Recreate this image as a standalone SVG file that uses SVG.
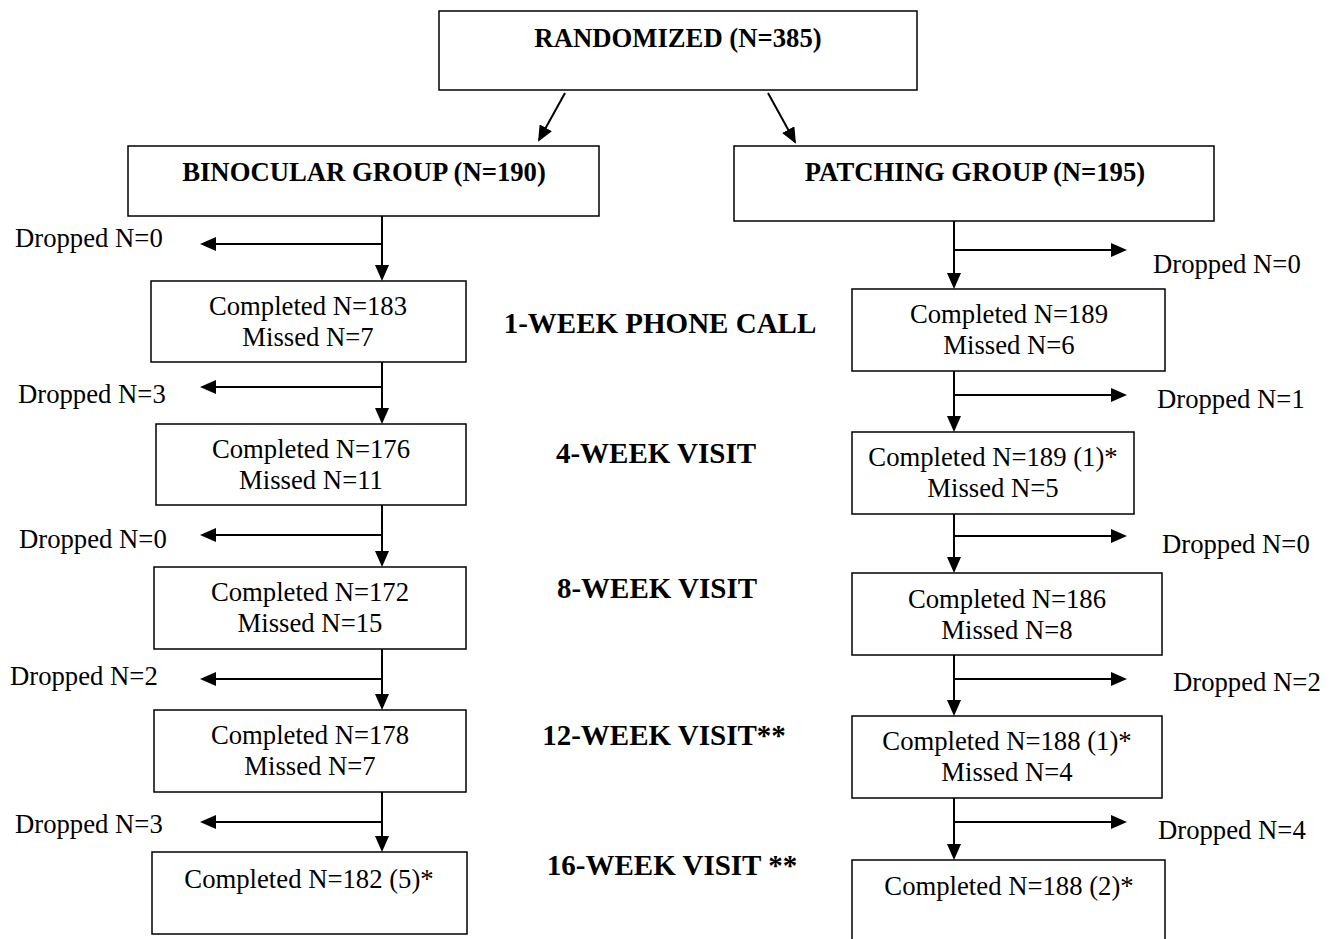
<svg xmlns="http://www.w3.org/2000/svg" width="1334" height="939" viewBox="0 0 1334 939">
<style>
.box{fill:#fff;stroke:#000;stroke-width:1.5}
.t{font-family:"Liberation Serif",serif;font-size:26.7px;fill:#000;text-anchor:middle}
.d{font-family:"Liberation Serif",serif;font-size:26.7px;fill:#000}
.b{font-family:"Liberation Serif",serif;font-size:26.7px;font-weight:bold;fill:#000;text-anchor:middle}
.m{font-family:"Liberation Serif",serif;font-size:29px;font-weight:bold;fill:#000;text-anchor:middle}
.c{stroke:#000;stroke-width:2;fill:none;marker-end:url(#ah)}
</style>
<defs>
<marker id="ah" markerWidth="8" markerHeight="7" refX="7" refY="3.5" orient="auto" markerUnits="strokeWidth">
<path d="M0,0 L8,3.5 L0,7 Z" fill="#000"/>
</marker>
</defs>
<g id="connectors">
<line class="c" x1="565" y1="93" x2="539" y2="140"/>
<line class="c" x1="768" y1="93" x2="795" y2="142"/>
<line class="c" x1="382" y1="216" x2="382" y2="279"/>
<line class="c" x1="382" y1="244" x2="202" y2="244"/>
<line class="c" x1="382" y1="362" x2="382" y2="422"/>
<line class="c" x1="382" y1="387" x2="202" y2="387"/>
<line class="c" x1="382" y1="505" x2="382" y2="565"/>
<line class="c" x1="382" y1="535" x2="202" y2="535"/>
<line class="c" x1="382" y1="649" x2="382" y2="708"/>
<line class="c" x1="382" y1="679" x2="202" y2="679"/>
<line class="c" x1="382" y1="792" x2="382" y2="850"/>
<line class="c" x1="382" y1="822" x2="202" y2="822"/>
<line class="c" x1="954" y1="221" x2="954" y2="287"/>
<line class="c" x1="954" y1="250" x2="1125" y2="250"/>
<line class="c" x1="954" y1="371" x2="954" y2="430"/>
<line class="c" x1="954" y1="395" x2="1125" y2="395"/>
<line class="c" x1="954" y1="514" x2="954" y2="571"/>
<line class="c" x1="954" y1="536" x2="1125" y2="536"/>
<line class="c" x1="954" y1="655" x2="954" y2="714"/>
<line class="c" x1="954" y1="679" x2="1125" y2="679"/>
<line class="c" x1="954" y1="798" x2="954" y2="858"/>
<line class="c" x1="954" y1="822" x2="1125" y2="822"/>
</g>
<g id="randomized"><rect class="box" x="439" y="11" width="478" height="79"/><text class="b" x="678" y="47">RANDOMIZED (N=385)</text></g>
<g id="binocular"><rect class="box" x="128" y="146" width="471" height="70"/><text class="b" x="364" y="181">BINOCULAR GROUP (N=190)</text></g>
<g id="patching"><rect class="box" x="734" y="146" width="480" height="75"/><text class="b" x="975" y="181">PATCHING GROUP (N=195)</text></g>
<g id="l-drop0"><text class="d" x="15" y="247">Dropped N=0</text></g>
<g id="l1"><rect class="box" x="151" y="281" width="315" height="81"/><text class="t" x="308" y="315">Completed N=183</text><text class="t" x="308" y="346">Missed N=7</text></g>
<g id="l-drop1"><text class="d" x="18" y="403">Dropped N=3</text></g>
<g id="l2"><rect class="box" x="156" y="424" width="310" height="81"/><text class="t" x="311" y="458">Completed N=176</text><text class="t" x="311" y="489">Missed N=11</text></g>
<g id="l-drop2"><text class="d" x="19" y="548">Dropped N=0</text></g>
<g id="l3"><rect class="box" x="154" y="567" width="312" height="82"/><text class="t" x="310" y="601">Completed N=172</text><text class="t" x="310" y="632">Missed N=15</text></g>
<g id="l-drop3"><text class="d" x="10" y="685">Dropped N=2</text></g>
<g id="l4"><rect class="box" x="154" y="710" width="312" height="82"/><text class="t" x="310" y="744">Completed N=178</text><text class="t" x="310" y="775">Missed N=7</text></g>
<g id="l-drop4"><text class="d" x="15" y="833">Dropped N=3</text></g>
<g id="l5"><rect class="box" x="152" y="852" width="315" height="82"/><text class="t" x="309" y="888">Completed N=182 (5)*</text></g>
<g id="r-drop0"><text class="d" x="1153" y="273">Dropped N=0</text></g>
<g id="r1"><rect class="box" x="852" y="289" width="313" height="82"/><text class="t" x="1009" y="323">Completed N=189</text><text class="t" x="1009" y="354">Missed N=6</text></g>
<g id="r-drop1"><text class="d" x="1157" y="408">Dropped N=1</text></g>
<g id="r2"><rect class="box" x="852" y="432" width="282" height="82"/><text class="t" x="993" y="466">Completed N=189 (1)*</text><text class="t" x="993" y="497">Missed N=5</text></g>
<g id="r-drop2"><text class="d" x="1162" y="553">Dropped N=0</text></g>
<g id="r3"><rect class="box" x="852" y="573" width="310" height="82"/><text class="t" x="1007" y="608">Completed N=186</text><text class="t" x="1007" y="639">Missed N=8</text></g>
<g id="r-drop3"><text class="d" x="1173" y="691">Dropped N=2</text></g>
<g id="r4"><rect class="box" x="852" y="716" width="310" height="82"/><text class="t" x="1007" y="750">Completed N=188 (1)*</text><text class="t" x="1007" y="781">Missed N=4</text></g>
<g id="r-drop4"><text class="d" x="1158" y="839">Dropped N=4</text></g>
<g id="r5"><rect class="box" x="852" y="860" width="313" height="90"/><text class="t" x="1009" y="895">Completed N=188 (2)*</text></g>
<g id="labels">
<text class="m" x="660" y="333">1-WEEK PHONE CALL</text>
<text class="m" x="656" y="463">4-WEEK VISIT</text>
<text class="m" x="657" y="598">8-WEEK VISIT</text>
<text class="m" x="664" y="745">12-WEEK VISIT**</text>
<text class="m" x="672" y="875">16-WEEK VISIT **</text>
</g>
</svg>
